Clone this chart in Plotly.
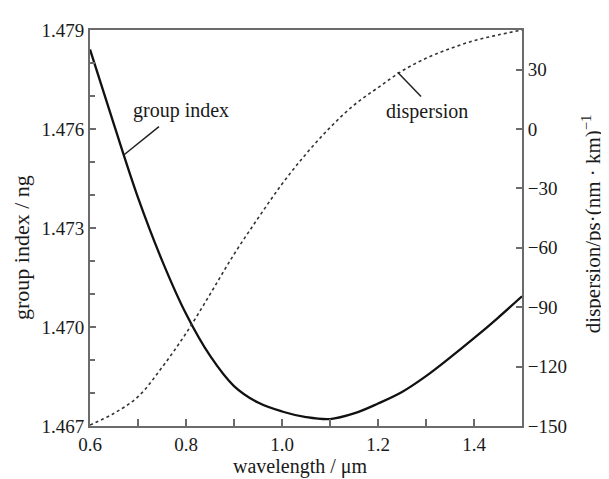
import plotly.graph_objects as go

wavelength = [0.60, 0.65, 0.70, 0.75, 0.80, 0.85, 0.90, 0.95, 1.00, 1.05,
              1.10, 1.15, 1.20, 1.25, 1.30, 1.35, 1.40, 1.45, 1.50]
group_index = [1.47841, 1.47613, 1.47392, 1.47202, 1.47040, 1.46913, 1.46821,
               1.46771, 1.46744, 1.46727, 1.46721, 1.46738, 1.46768, 1.46803,
               1.46851, 1.46907, 1.46966, 1.47028, 1.47093]
dispersion = [-149.5, -143.6, -135.2, -120.4, -103.2, -83.5, -63.3, -45.1,
              -27.8, -12.6, 0.7, 12.1, 20.9, 29.3, 35.7, 40.6, 44.6, 47.5, 50.0]

x_ticks = [0.6, 0.8, 1.0, 1.2, 1.4]
ng_ticks = [1.467, 1.470, 1.473, 1.476, 1.479]
disp_ticks = [-150, -120, -90, -60, -30, 0, 30]

# leader line endpoints (curve point -> label side) and label positions
gi_leader = [(0.671, 1.47522), (0.7437, 1.47607)]
gi_label = (0.79, 1.47655)
disp_leader = [(1.241, 28.7), (1.2896, 16.4)]
disp_label = (1.303, 8.9)

FONT = "Liberation Serif, Times New Roman, serif"
AX = "#6b6b6b"
TXT = "#1a1a1a"

fig = go.Figure()
fig.add_trace(go.Scatter(x=wavelength, y=group_index, mode="lines",
                         line=dict(color="#111111", width=2.3, shape="spline"),
                         yaxis="y", showlegend=False))
fig.add_trace(go.Scatter(x=wavelength, y=dispersion, mode="lines",
                         line=dict(color="#333333", width=1.6, dash="dot", shape="spline"),
                         yaxis="y2", showlegend=False))

fig.add_shape(type="line", xref="x", yref="y",
              x0=gi_leader[0][0], y0=gi_leader[0][1], x1=gi_leader[1][0], y1=gi_leader[1][1],
              line=dict(color="#222222", width=1.5))
fig.add_shape(type="line", xref="x", yref="y2",
              x0=disp_leader[0][0], y0=disp_leader[0][1], x1=disp_leader[1][0], y1=disp_leader[1][1],
              line=dict(color="#222222", width=1.5))

fig.add_annotation(x=gi_label[0], y=gi_label[1], xref="x", yref="y", text="group index",
                   showarrow=False, xanchor="center", yanchor="middle",
                   font=dict(family=FONT, size=20, color=TXT))
fig.add_annotation(x=disp_label[0], y=disp_label[1], xref="x", yref="y2", text="dispersion",
                   showarrow=False, xanchor="center", yanchor="middle",
                   font=dict(family=FONT, size=20, color=TXT))

# axis titles
fig.add_annotation(x=0.486, y=-0.103, xref="paper", yref="paper", text="wavelength / μm",
                   showarrow=False, xanchor="center", yanchor="middle",
                   font=dict(family=FONT, size=20, color=TXT))
fig.add_annotation(x=-0.157, y=0.45, xref="paper", yref="paper", text="group index / ng",
                   textangle=-90, showarrow=False, xanchor="center", yanchor="middle",
                   font=dict(family=FONT, size=22, color=TXT))
fig.add_annotation(x=1.16, y=0.51, xref="paper", yref="paper",
                   text="dispersion/ps·(nm · km)<sup>−1</sup>",
                   textangle=-90, showarrow=False, xanchor="center", yanchor="middle",
                   font=dict(family=FONT, size=21, color=TXT))

# page has an 8px body margin: figure is sized so plot area lands at x 90-522, y 20-426
fig.update_layout(
    width=601, height=471,
    margin=dict(l=82, r=87, t=12, b=53),
    paper_bgcolor="white", plot_bgcolor="white",
    font=dict(family=FONT, size=19, color=TXT),
    xaxis=dict(range=[0.6, 1.5], tickvals=x_ticks, tickformat=".1f",
               ticks="inside", ticklen=7, tickwidth=1.5, tickcolor=AX,
               minor=dict(dtick=0.1, tick0=0.6, ticks="inside", ticklen=7,
                          tickwidth=1.5, tickcolor=AX),
               showline=True, linecolor=AX, linewidth=1.8, mirror=True,
               showgrid=False, zeroline=False),
    yaxis=dict(range=[1.467, 1.479], tickvals=ng_ticks, tickformat=".3f",
               ticks="inside", ticklen=6, tickwidth=1.5, tickcolor=AX,
               minor=dict(dtick=0.001, tick0=1.467, ticks="inside", ticklen=5,
                          tickwidth=1.5, tickcolor=AX),
               showline=True, linecolor=AX, linewidth=1.8, mirror=True,
               showgrid=False, zeroline=False),
    yaxis2=dict(range=[-150, 50], tickvals=disp_ticks, overlaying="y", side="right",
                ticks="inside", ticklen=6, tickwidth=1.5, tickcolor=AX,
                showline=True, linecolor=AX, linewidth=1.8,
                showgrid=False, zeroline=False),
)

fig.write_html("out.html")
